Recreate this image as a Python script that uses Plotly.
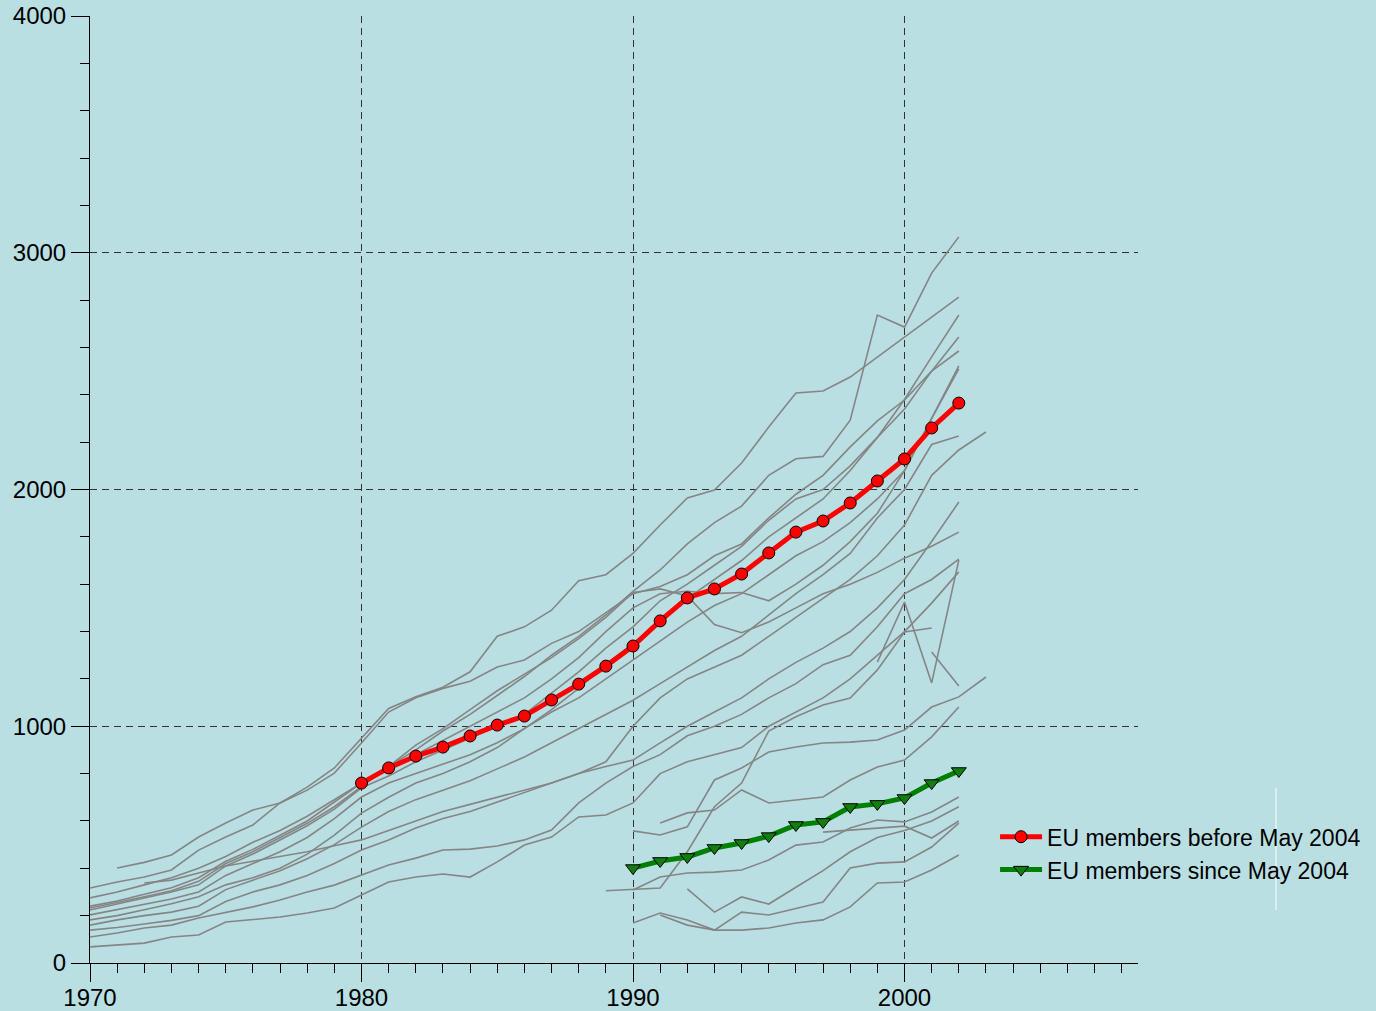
import plotly.graph_objects as go

# ---- data ----
red_start = 1980
eu_before_2004 = [760, 824, 874, 912, 959, 1005, 1043, 1111, 1178, 1254, 1339, 1445, 1542,
                  1580, 1643, 1732, 1820, 1867, 1943, 2036, 2129, 2260, 2365]
green_start = 1990
eu_since_2004 = [401, 431, 448, 486, 507, 536, 583, 596, 659, 672, 697, 760, 811]

g01_start = 1971
g01 = [401, 425, 456, 532, 591, 646, 676, 743, 824, 950, 1075, 1125, 1165, 1230, 1380, 1420,
       1490, 1615, 1640, 1730, 1850, 1964, 1998, 2112, 2264, 2408, 2416, 2475, 2560, 2644, 2729, 2813]
g02_start = 1970
g02 = [317, 342, 363, 393, 477, 532, 583, 676, 730, 802, 929, 1060, 1120, 1160, 1190, 1250, 1280,
       1350, 1400, 1480, 1560, 1590, 1640, 1720, 1770, 1880, 1980, 2060, 2180, 2290, 2378, 2500, 2585]
g03_start = 1970
g03 = [275, 300, 330, 360, 400, 450, 510, 560, 620, 690, 760, 830, 900, 980, 1050, 1130, 1210,
       1300, 1380, 1470, 1570, 1660, 1770, 1860, 1930, 2060, 2130, 2140, 2293, 2737, 2686, 2914, 3067]
g04_start = 1970
g04 = [224, 250, 275, 300, 330, 410, 460, 520, 580, 650, 740, 790, 850, 900, 950, 1000, 1050,
       1140, 1230, 1330, 1420, 1530, 1600, 1680, 1760, 1870, 1960, 2000, 2100, 2220, 2380, 2560, 2737]
g05_start = 1970
g05 = [203, 225, 250, 270, 300, 370, 420, 470, 530, 610, 701, 760, 800, 840, 880, 930, 990,
       1070, 1160, 1260, 1352, 1440, 1540, 1620, 1700, 1800, 1880, 1960, 2080, 2220, 2340, 2500, 2644]
g06_start = 1970
g06 = [182, 200, 225, 250, 280, 330, 360, 400, 460, 540, 633, 700, 760, 800, 850, 910, 990,
       1060, 1120, 1200, 1280, 1360, 1440, 1510, 1560, 1640, 1720, 1780, 1860, 1960, 2080, 2300, 2522]
g07_start = 1970
g07 = [160, 182, 200, 215, 240, 310, 350, 390, 440, 500, 574, 640, 690, 730, 770, 820, 870,
       930, 990, 1050, 1110, 1180, 1250, 1320, 1380, 1470, 1560, 1640, 1730, 1880, 2000, 2190, 2226]
g08_start = 1972
g08 = [338, 350, 380, 410, 430, 450, 470, 495, 520, 560, 600, 640, 670, 700, 730, 760, 800,
       850, 1000, 1120, 1200, 1250, 1300, 1380, 1460, 1540, 1620, 1720, 1850, 2060, 2167, 2243]
g09_start = 1970
g09 = [139, 150, 165, 180, 200, 260, 300, 330, 370, 420, 477, 520, 570, 610, 640, 680, 720,
       760, 800, 830, 857, 930, 1000, 1060, 1120, 1200, 1270, 1330, 1400, 1500, 1620, 1780, 1947]
g10_start = 1970
g10 = [110, 127, 148, 160, 190, 215, 237, 266, 300, 329, 372, 414, 443, 477, 481, 494, 520,
       562, 676, 760, 830, 880, 960, 1000, 1050, 1120, 1180, 1260, 1300, 1420, 1560, 1620, 1706]
g11_start = 1970
g11 = [68, 76, 84, 110, 118, 173, 182, 194, 211, 232, 287, 342, 363, 376, 363, 427, 498,
       532, 617, 625, 676, 800, 850, 880, 910, 1000, 1060, 1120, 1200, 1300, 1400, 1520, 1652]
g12_start = 1970
g12 = [232, 255, 280, 305, 345, 420, 470, 530, 590, 660, 745, 830, 920, 990, 1070, 1150, 1220,
       1290, 1370, 1460, 1565, 1580, 1550, 1430, 1395, 1440, 1500, 1560, 1600, 1650, 1710, 1760, 1820]
g13_start = 1970
g13 = [240, 262, 290, 318, 360, 430, 480, 540, 600, 680, 760, 820, 880, 940, 1000, 1060, 1120,
       1200, 1290, 1400, 1500, 1560, 1570, 1560, 1565, 1530, 1600, 1680, 1780, 1900, 2080, 2300, 2510]

n01_start = 1991
n01 = [591, 634, 646, 731, 676, 688, 701, 773, 828, 857, 955, 1081]
n02_start = 1990
n02 = [558, 541, 575, 773, 824, 891, 912, 929, 933, 942, 984, 1081, 1124, 1208]
n03_start = 1990
n03 = [308, 363, 380, 384, 393, 435, 498, 511, 570, 604, 596, 638, 701]
n04_start = 1997
n04 = [553, 562, 570, 578, 528, 600]
n05_start = 1990
n05 = [169, 211, 182, 139, 139, 148, 169, 182, 237, 338, 342, 393, 456]
n06_start = 1991
n06 = [203, 160, 139, 215, 203, 232, 258, 401, 422, 427, 490, 591]
n07_start = 1992
n07 = [313, 215, 279, 249, 320, 390, 470, 530, 560, 600, 660]
n08_start = 1989
n08 = [305, 312, 317, 470, 660, 760, 980, 1040, 1090, 1119, 1238, 1398, 1415]
n09_start = 1999
n09 = [1271, 1525, 1183, 1702]
n10_start = 2001
n10 = [1314, 1170]

grey_series = [
    (g01_start, g01), (g02_start, g02), (g03_start, g03), (g04_start, g04), (g05_start, g05),
    (g06_start, g06), (g07_start, g07), (g08_start, g08), (g09_start, g09), (g10_start, g10),
    (g11_start, g11), (g12_start, g12), (g13_start, g13),
    (n01_start, n01), (n02_start, n02), (n03_start, n03), (n04_start, n04), (n05_start, n05),
    (n06_start, n06), (n07_start, n07), (n08_start, n08), (n09_start, n09), (n10_start, n10),
]

x_tick_labels = ["1970", "1980", "1990", "2000"]
y_tick_labels = ["0", "1000", "2000", "3000", "4000"]

BG = "rgb(185,223,227)"
FONT = "Liberation Sans, Arial, sans-serif"

fig = go.Figure()

for start, vals in grey_series:
    fig.add_trace(go.Scatter(
        x=list(range(start, start + len(vals))), y=vals, mode="lines",
        line=dict(color="#858585", width=1.6), showlegend=False, hoverinfo="skip"))

fig.add_trace(go.Scatter(
    x=list(range(red_start, red_start + len(eu_before_2004))), y=eu_before_2004,
    mode="lines+markers", name="EU members before May 2004",
    line=dict(color="#ff0000", width=5),
    marker=dict(symbol="circle", size=12, color="#ff0000", line=dict(color="black", width=1))))

fig.add_trace(go.Scatter(
    x=list(range(green_start, green_start + len(eu_since_2004))), y=eu_since_2004,
    mode="lines+markers", name="EU members since May 2004",
    line=dict(color="#008000", width=5),
    marker=dict(symbol="triangle-down", size=13, color="#107f10", line=dict(color="black", width=1))))

fig.add_shape(type="line", xref="paper", yref="paper",
              x0=1.1317, x1=1.1317, y0=0.056, y1=0.185,
              line=dict(color="white", width=1))

fig.update_layout(
    width=1376, height=1011, autosize=False,
    margin=dict(l=90, r=238, t=16, b=48, autoexpand=False),
    paper_bgcolor=BG, plot_bgcolor=BG,
    font=dict(family=FONT, size=24, color="black"),
    showlegend=True,
    legend=dict(x=0.8636, y=0.156, xanchor="left", yanchor="top",
                bgcolor="rgba(0,0,0,0)", font=dict(size=23, family=FONT),
                itemwidth=42, tracegroupgap=0),
    xaxis=dict(
        range=[1970, 2008.6], tickmode="array", automargin=False,
        tickvals=[int(t) for t in x_tick_labels], ticktext=x_tick_labels,
        ticks="outside", ticklen=18, tickcolor="black", tickwidth=1,
        ticklabelstandoff=-5,
        showline=True, linecolor="black", linewidth=1,
        showgrid=True, gridcolor="#333333", gridwidth=1, griddash="7px,5px",
        zeroline=False,
        minor=dict(dtick=1, tick0=1970, ticks="outside", ticklen=9,
                   tickcolor="black", showgrid=False),
    ),
    yaxis=dict(
        range=[0, 4000], tickmode="array", automargin=False,
        tickvals=[int(t) for t in y_tick_labels], ticktext=y_tick_labels,
        ticks="outside", ticklen=18, tickcolor="black", tickwidth=1,
        showline=True, linecolor="black", linewidth=1,
        showgrid=True, gridcolor="#333333", gridwidth=1, griddash="7px,5px",
        zeroline=False,
        minor=dict(dtick=200, tick0=0, ticks="outside", ticklen=9,
                   tickcolor="black", showgrid=False),
    ),
)

fig.write_html(
    "out.html",
    config={"responsive": False, "displayModeBar": False},
    post_script="document.body.style.margin='0';document.body.style.overflow='hidden';",
)
